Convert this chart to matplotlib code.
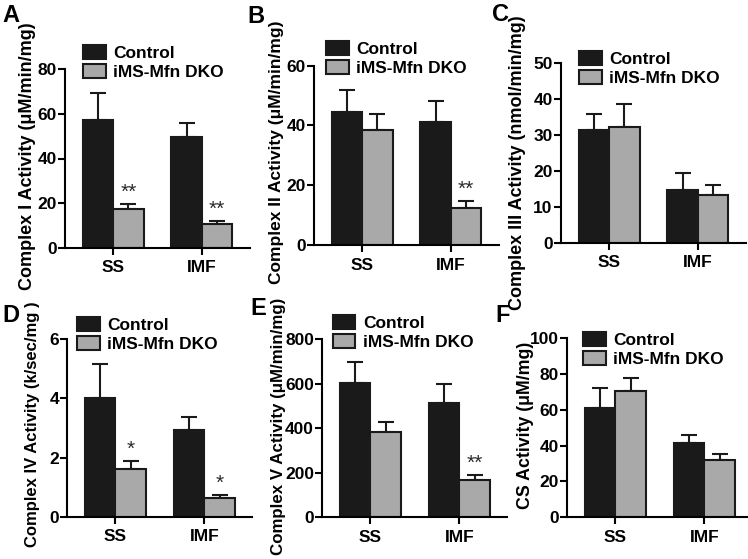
import matplotlib
matplotlib.use('Agg')
import matplotlib.pyplot as plt
from matplotlib.patches import Patch

plt.rcParams['font.family'] = ['Liberation Sans', 'DejaVu Sans']
plt.rcParams['font.weight'] = 'bold'

# groups / series
groups = ['SS', 'IMF']
series = ['Control', 'iMS-Mfn DKO']

# A - Complex I
ctrl_a = [57.4, 49.8]
ctrl_a_err = [11.7, 6.1]
dko_a = [17.4, 10.9]
dko_a_err = [2.3, 1.3]
stars_a = ['**', '**']

# B - Complex II
ctrl_b = [44.4, 41.2]
ctrl_b_err = [7.4, 7.1]
dko_b = [38.5, 12.5]
dko_b_err = [5.2, 2.1]
stars_b = ['', '**']

# C - Complex III
ctrl_c = [31.3, 14.7]
ctrl_c_err = [4.5, 4.6]
dko_c = [32.1, 13.3]
dko_c_err = [6.5, 2.7]
stars_c = ['', '']

# D - Complex IV
ctrl_d = [4.02, 2.94]
ctrl_d_err = [1.15, 0.42]
dko_d = [1.61, 0.62]
dko_d_err = [0.28, 0.11]
stars_d = ['*', '*']

# E - Complex V
ctrl_e = [602, 511]
ctrl_e_err = [96, 87]
dko_e = [381, 167]
dko_e_err = [45, 23]
stars_e = ['', '**']

# F - CS
ctrl_f = [61.2, 41.4]
ctrl_f_err = [10.8, 4.5]
dko_f = [70.5, 32.1]
dko_f_err = [7.3, 3.2]
stars_f = ['', '']

W, H = 748, 559
fig = plt.figure(figsize=(W / 100, H / 100), dpi=100)

BLACK = '#1a1a1a'
GRAY = '#a9a9a9'
bw = 0.343

panels = [
    # letter, ylabel, ctrl, ctrl_err, dko, dko_err, stars, ymax, step,
    # axis left px, zero px, top px, letter pos, legend pos,
    # ylabel offset px, ylabel centre px, ylabel size
    ('A', 'Complex I Activity (\u03bcM/min/mg)', ctrl_a, ctrl_a_err, dko_a, dko_a_err, stars_a,
     80, 20, 65, 248, 69, (2, 4), (83, 45), 37, 156.5, 13),
    ('B', 'Complex II Activity (\u03bcM/min/mg)', ctrl_b, ctrl_b_err, dko_b, dko_b_err, stars_b,
     60, 20, 314, 245, 65.7, (247, 5), (326, 41), 38, 152.5, 12.5),
    ('C', 'Complex III Activity (nmol/min/mg)', ctrl_c, ctrl_c_err, dko_c, dko_c_err, stars_c,
     50, 10, 561, 242.7, 62.7, (492, 3), (579, 51), 43, 163, 13),
    ('D', 'Complex IV Activity (k/sec/mg )', ctrl_d, ctrl_d_err, dko_d, dko_d_err, stars_d,
     6, 2, 67.3, 516.7, 339.3, (2, 304), (77, 317), 35, 424.5, 12),
    ('E', 'Complex V Activity (\u03bcM/min/mg)', ctrl_e, ctrl_e_err, dko_e, dko_e_err, stars_e,
     800, 200, 322.3, 517.3, 339, (250, 297), (332.7, 315), 44, 426, 12.2),
    ('F', 'CS Activity (\u03bcM/mg)', ctrl_f, ctrl_f_err, dko_f, dko_f_err, stars_f,
     100, 20, 567.3, 517, 338.3, (495, 304), (583, 332), 42, 425.5, 12.8),
]

x = [0, 1]
ax_w = 185

for (letter, ylab, ctrl, ctrl_err, dko, dko_err, stars, ymax, step,
     left, zero, top, lpos, legpos, yoff, ycen, ysize) in panels:
    ax = fig.add_axes([left / W, 1 - zero / H, ax_w / W, (zero - top) / H])
    xc = [v - bw / 2 for v in x]
    xd = [v + bw / 2 for v in x]
    ax.errorbar(xc, ctrl, yerr=[[0, 0], ctrl_err], fmt='none', ecolor=BLACK,
                elinewidth=1.5, capsize=6, capthick=1.5, zorder=1)
    ax.errorbar(xd, dko, yerr=[[0, 0], dko_err], fmt='none', ecolor=BLACK,
                elinewidth=1.5, capsize=6, capthick=1.5, zorder=1)
    ax.bar(xc, ctrl, width=bw, color=BLACK, edgecolor=BLACK, linewidth=1.5, zorder=2)
    ax.bar(xd, dko, width=bw, color=GRAY, edgecolor=BLACK, linewidth=1.5, zorder=2)
    for xi, v, e, s in zip(xd, dko, dko_err, stars):
        if s:
            ax.annotate(s, (xi, v + e), xytext=(0, 1.5), textcoords='offset points',
                        ha='center', va='bottom', fontsize=15, fontweight='normal',
                        color='#2a2a2a')
    ax.set_xlim(-0.54, 1.54)
    ax.set_ylim(0, ymax)
    ax.set_yticks(range(0, ymax + 1, step))
    ax.set_xticks(x)
    ax.set_xticklabels(groups, fontsize=12.5, fontweight='bold')
    ax.tick_params(axis='y', labelsize=12.5, width=1.5, length=5, pad=1)
    ax.tick_params(axis='x', width=1.5, length=5, pad=4)
    for t in ax.get_yticklabels():
        t.set_fontweight('bold')
    for sp in ['top', 'right']:
        ax.spines[sp].set_visible(False)
    for sp in ['left', 'bottom']:
        ax.spines[sp].set_linewidth(1.5)
    ax.set_ylabel(ylab, fontsize=ysize, fontweight='bold', va='center')
    ax.yaxis.set_label_coords(-yoff / ax_w, (zero - ycen) / (zero - top))

    handles = [Patch(facecolor=BLACK, edgecolor=BLACK, linewidth=1.5),
               Patch(facecolor=GRAY, edgecolor=BLACK, linewidth=1.5)]
    ax.legend(handles, series, loc='upper left',
              bbox_to_anchor=(legpos[0] / W, 1 - legpos[1] / H),
              bbox_transform=fig.transFigure, frameon=False, borderpad=0,
              borderaxespad=0, handlelength=1.3, handleheight=0.85,
              handletextpad=0.45, labelspacing=0.2,
              prop={'size': 12.5, 'weight': 'bold'})

    fig.text(lpos[0] / W, 1 - lpos[1] / H, letter, fontsize=17, fontweight='bold',
             ha='left', va='top')

fig.savefig('out.png', dpi=100)
